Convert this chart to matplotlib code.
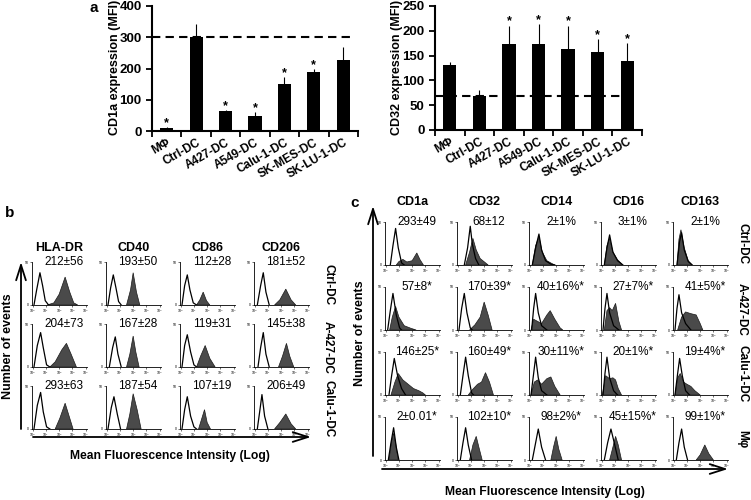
import numpy as np
import matplotlib
matplotlib.use("Agg")
import matplotlib.pyplot as plt

plt.rcParams['font.family'] = ['Liberation Sans', 'DejaVu Sans']

# ---- panel a data ----
groups = ["MΦ", "Ctrl-DC", "A427-DC", "A549-DC", "Calu-1-DC", "SK-MES-DC", "SK-LU-1-DC"]
cd1a_mfi = [9, 300, 63, 48, 152, 189, 227]
cd1a_err = [3, 43, 4, 12, 20, 9, 42]
cd1a_star = [1, 0, 1, 1, 1, 1, 0]
cd32_mfi = [131, 69, 173, 173, 163, 157, 140]
cd32_err = [7, 11, 37, 40, 47, 26, 35]
cd32_star = [0, 0, 1, 1, 1, 1, 1]

# ---- panel b data ----
b_markers = ["HLA-DR", "CD40", "CD86", "CD206"]
b_rows = ["Ctrl-DC", "A-427-DC", "Calu-1-DC"]
b_stats = [["212±56", "193±50", "112±28", "181±52"],
           ["204±73", "167±28", "119±31", "145±38"],
           ["293±63", "187±54", "107±19", "206±49"]]
# histogram outlines: (log decade, fraction of max count)
b_open = [
    [[(0.1, 0), (0.3, 0.35), (0.55, 0.75), (0.75, 0.45), (0.95, 0.1), (1.2, 0)],
     [(0.1, 0), (0.3, 0.4), (0.5, 0.7), (0.7, 0.4), (0.9, 0.08), (1.1, 0)],
     [(0.1, 0), (0.3, 0.45), (0.5, 0.7), (0.7, 0.35), (0.95, 0.05), (1.2, 0)],
     [(0.2, 0), (0.45, 0.45), (0.65, 0.75), (0.85, 0.3), (1.1, 0)]],
    [[(0.1, 0), (0.35, 0.5), (0.6, 0.8), (0.8, 0.45), (1.05, 0.05), (1.3, 0)],
     [(0.2, 0), (0.45, 0.45), (0.65, 0.7), (0.85, 0.3), (1.1, 0)],
     [(0.1, 0), (0.3, 0.5), (0.5, 0.75), (0.75, 0.35), (1.0, 0.05), (1.2, 0)],
     [(0.25, 0), (0.45, 0.45), (0.65, 0.8), (0.85, 0.3), (1.1, 0)]],
    [[(0.1, 0), (0.35, 0.55), (0.6, 0.85), (0.8, 0.4), (1.05, 0.05), (1.3, 0)],
     [(0.1, 0), (0.35, 0.5), (0.55, 0.75), (0.8, 0.35), (1.05, 0)],
     [(0.1, 0), (0.3, 0.45), (0.5, 0.75), (0.75, 0.3), (1.0, 0.05), (1.2, 0)],
     [(0.2, 0), (0.4, 0.45), (0.55, 0.8), (0.75, 0.3), (1.0, 0)]],
]
b_fill = [
    [[(1.1, 0), (1.6, 0.05), (2.0, 0.25), (2.45, 0.65), (2.8, 0.3), (3.1, 0.05), (3.4, 0)],
     [(1.5, 0), (1.8, 0.35), (2.0, 0.75), (2.25, 0.3), (2.5, 0)],
     [(1.2, 0), (1.45, 0.12), (1.7, 0.3), (1.95, 0.1), (2.2, 0)],
     [(1.5, 0), (1.9, 0.12), (2.35, 0.37), (2.75, 0.12), (3.1, 0)]],
    [[(1.3, 0), (1.7, 0.12), (2.2, 0.4), (2.55, 0.55), (2.9, 0.3), (3.3, 0)],
     [(1.5, 0), (1.75, 0.3), (2.0, 0.72), (2.2, 0.35), (2.45, 0)],
     [(1.2, 0), (1.5, 0.25), (1.85, 0.5), (2.2, 0.2), (2.6, 0)],
     [(1.8, 0), (2.1, 0.25), (2.4, 0.55), (2.65, 0.25), (2.95, 0)]],
    [[(1.7, 0), (2.05, 0.25), (2.45, 0.6), (2.75, 0.3), (3.05, 0)],
     [(1.5, 0), (1.75, 0.35), (2.0, 0.82), (2.3, 0.45), (2.6, 0)],
     [(1.35, 0), (1.55, 0.2), (1.8, 0.45), (2.0, 0.15), (2.25, 0)],
     [(1.5, 0), (1.9, 0.15), (2.35, 0.35), (2.75, 0.12), (3.1, 0)]],
]

# ---- panel c data ----
c_markers = ["CD1a", "CD32", "CD14", "CD16", "CD163"]
c_rows = ["Ctrl-DC", "A-427-DC", "Calu-1-DC", "Mφ"]
c_stats = [["293±49", "68±12", "2±1%", "3±1%", "2±1%"],
           ["57±8*", "170±39*", "40±16%*", "27±7%*", "41±5%*"],
           ["146±25*", "160±49*", "30±11%*", "20±1%*", "19±4%*"],
           ["2±0.01*", "102±10*", "98±2%*", "45±15%*", "99±1%*"]]
c_open = [
    [[(0.35, 0), (0.55, 0.45), (0.75, 0.85), (0.95, 0.4), (1.2, 0.05), (1.4, 0)],
     [(0.5, 0), (0.75, 0.4), (0.95, 0.9), (1.1, 0.5), (1.35, 0.15), (1.6, 0)],
     [(0.2, 0), (0.45, 0.4), (0.7, 0.72), (0.9, 0.35), (1.2, 0.1), (1.6, 0.02), (1.9, 0)],
     [(0.2, 0), (0.4, 0.4), (0.6, 0.7), (0.85, 0.3), (1.2, 0.1), (1.6, 0)],
     [(0.25, 0), (0.45, 0.55), (0.6, 0.75), (0.8, 0.35), (1.1, 0.08), (1.4, 0)]],
    [[(0.15, 0), (0.35, 0.45), (0.55, 0.85), (0.8, 0.35), (1.05, 0.05), (1.2, 0)],
     [(0.1, 0), (0.3, 0.5), (0.5, 0.85), (0.7, 0.4), (0.95, 0.05), (1.1, 0)],
     [(0.15, 0), (0.3, 0.5), (0.45, 0.85), (0.65, 0.4), (0.9, 0.1), (1.3, 0)],
     [(0.1, 0), (0.25, 0.5), (0.4, 0.85), (0.6, 0.4), (0.9, 0.1), (1.3, 0)],
     [(0.1, 0), (0.25, 0.5), (0.4, 0.82), (0.6, 0.4), (0.9, 0.15), (1.3, 0)]],
    [[(0.25, 0), (0.45, 0.45), (0.65, 0.85), (0.9, 0.45), (1.2, 0.15), (1.5, 0)],
     [(0.2, 0), (0.4, 0.45), (0.6, 0.88), (0.8, 0.45), (1.05, 0.05), (1.2, 0)],
     [(0.1, 0), (0.3, 0.5), (0.45, 0.88), (0.65, 0.4), (0.9, 0.1), (1.3, 0)],
     [(0.1, 0), (0.25, 0.5), (0.4, 0.88), (0.6, 0.4), (0.9, 0.1), (1.2, 0)],
     [(0.1, 0), (0.3, 0.5), (0.45, 0.85), (0.65, 0.45), (0.9, 0.1), (1.2, 0)]],
    [[(0.2, 0), (0.4, 0.4), (0.6, 0.75), (0.8, 0.3), (1.0, 0)],
     [(0.2, 0), (0.4, 0.4), (0.6, 0.75), (0.8, 0.35), (1.05, 0)],
     [(0.2, 0), (0.45, 0.4), (0.65, 0.72), (0.9, 0.3), (1.2, 0)],
     [(0.2, 0), (0.45, 0.4), (0.7, 0.72), (0.95, 0.4), (1.25, 0)],
     [(0.2, 0), (0.4, 0.4), (0.6, 0.72), (0.8, 0.3), (1.05, 0)]],
]
c_fill = [
    [[(0.8, 0), (1.0, 0.08), (1.3, 0.13), (1.6, 0.07), (2.0, 0.1), (2.35, 0.28), (2.6, 0.12), (2.85, 0)],
     [(0.6, 0), (0.9, 0.3), (1.15, 0.62), (1.4, 0.35), (1.7, 0.15), (2.1, 0.05), (2.3, 0)],
     [(0.2, 0), (0.45, 0.45), (0.7, 0.66), (0.95, 0.3), (1.3, 0.1), (1.7, 0.03), (1.9, 0)],
     [(0.2, 0), (0.4, 0.45), (0.6, 0.62), (0.85, 0.3), (1.2, 0.12), (1.6, 0)],
     [(0.25, 0), (0.4, 0.6), (0.55, 0.82), (0.8, 0.4), (1.1, 0.1), (1.4, 0)]],
    [[(0.3, 0), (0.5, 0.3), (0.75, 0.55), (1.0, 0.3), (1.4, 0.1), (1.9, 0.04), (2.3, 0)],
     [(0.9, 0), (1.3, 0.12), (1.7, 0.3), (2.0, 0.65), (2.3, 0.35), (2.6, 0)],
     [(0.1, 0), (0.3, 0.25), (0.6, 0.2), (0.9, 0.15), (1.3, 0.35), (1.55, 0.45), (1.9, 0.25), (2.3, 0.05), (2.5, 0)],
     [(0.2, 0), (0.4, 0.45), (0.6, 0.52), (0.8, 0.45), (1.05, 0.62), (1.3, 0.2), (1.5, 0)],
     [(0.3, 0), (0.6, 0.3), (0.9, 0.42), (1.3, 0.38), (1.7, 0.35), (2.0, 0.15), (2.2, 0)]],
    [[(0.4, 0), (0.7, 0.3), (0.95, 0.5), (1.3, 0.35), (1.7, 0.25), (2.1, 0.15), (2.5, 0.1), (2.8, 0.05), (3.0, 0)],
     [(0.8, 0), (1.1, 0.12), (1.5, 0.25), (1.8, 0.3), (2.1, 0.52), (2.4, 0.3), (2.7, 0)],
     [(0.1, 0), (0.35, 0.3), (0.6, 0.35), (0.9, 0.25), (1.3, 0.38), (1.6, 0.42), (1.9, 0.2), (2.3, 0)],
     [(0.05, 0), (0.3, 0.45), (0.6, 0.38), (0.85, 0.4), (1.05, 0.35), (1.25, 0.15), (1.5, 0)],
     [(0.1, 0), (0.3, 0.4), (0.5, 0.5), (0.75, 0.3), (1.0, 0.25), (1.3, 0.2), (1.6, 0.1), (2.0, 0)]],
    [[(0.25, 0), (0.45, 0.45), (0.6, 0.62), (0.75, 0.4), (0.95, 0)],
     [(0.9, 0), (1.15, 0.35), (1.4, 0.55), (1.6, 0.3), (1.85, 0)],
     [(1.6, 0), (1.8, 0.3), (2.0, 0.55), (2.2, 0.25), (2.45, 0)],
     [(0.6, 0), (0.85, 0.3), (1.05, 0.55), (1.25, 0.35), (1.5, 0)],
     [(1.7, 0), (2.0, 0.12), (2.35, 0.35), (2.65, 0.15), (3.0, 0)]],
]

W, H = 751, 500
fig = plt.figure(figsize=(W / 100, H / 100), dpi=100)


def px_axes(x, y, w, h):
    # x, y = top-left corner in pixels
    return fig.add_axes([x / W, 1 - (y + h) / H, w / W, h / H])


# overlay in pixel coords for arrows / free labels
ov = px_axes(0, 0, W, H)
ov.set_xlim(0, W)
ov.set_ylim(H, 0)
ov.axis("off")


def bar_panel(x, y, w, h, vals, errs, stars, ymax, step):
    ax = px_axes(x, y, w, h)
    pos = np.arange(len(groups))
    ax.bar(pos, vals, width=0.45, color="black")
    ax.errorbar(pos, vals, yerr=[np.zeros(len(vals)), errs], fmt="none",
                ecolor="black", elinewidth=0.8, capsize=0)
    for p, v, e, s in zip(pos, vals, errs, stars):
        if s:
            ax.annotate("*", (p, v + e), xytext=(0, 1), textcoords="offset points",
                        ha="center", va="baseline", fontsize=9, fontweight="bold")
    ax.plot([-0.5, 6.35], [vals[1], vals[1]], ls=(0, (4, 2.5)), color="black", lw=1.5)
    ax.set_xlim(-0.5, 6.5)
    ax.set_ylim(0, ymax)
    ax.set_yticks(np.arange(0, ymax + 1, step))
    ax.set_xticks(np.arange(-0.5, 7, 1))
    ax.set_xticklabels([])
    ax.set_xticks(pos, minor=True)
    ax.set_xticklabels(groups, minor=True, rotation=30, ha="right",
                       rotation_mode="anchor", fontsize=8.5, fontweight="bold")
    ax.tick_params(axis="x", which="minor", length=0, pad=4)
    ax.tick_params(axis="both", which="major", length=4, width=1.3, direction="out")
    for t in ax.get_yticklabels():
        t.set_fontweight("bold")
        t.set_fontsize(9.5)
    ax.spines[["top", "right"]].set_visible(False)
    ax.spines[["left", "bottom"]].set_linewidth(1.5)
    return ax


bar_panel(152, 6, 206, 125, cd1a_mfi, cd1a_err, cd1a_star, 400, 100)
bar_panel(435, 6, 207, 124, cd32_mfi, cd32_err, cd32_star, 250, 50)
ov.text(115, 67, "CD1a expression (MFI)", rotation=90, ha="center", va="center",
        fontsize=9, fontweight="bold")
ov.text(397, 67, "CD32 expression (MFI)", rotation=90, ha="center", va="center",
        fontsize=9, fontweight="bold")
ov.text(94, 8, "a", ha="center", va="center", fontsize=11, fontweight="bold")


def hist_panel(x, y, fill_pts, open_pts, label):
    ax = px_axes(x, y, 55, 43)
    fx, fy = zip(*fill_pts)
    ax.fill(fx, fy, facecolor="#4a4a4a", edgecolor="#1a1a1a", lw=0.5)
    ox, oy = zip(*open_pts)
    ax.plot(ox, oy, color="black", lw=0.9)
    ax.set_xlim(-0.05, 4.1)
    ax.set_ylim(0, 1)
    ax.set_xticks(range(5))
    ax.set_xticklabels(["10$^0$", "10$^1$", "10$^2$", "10$^3$", "10$^4$"], fontsize=2.5)
    ax.set_yticks([0, 1])
    ax.set_yticklabels(["0", "50"], fontsize=2.5)
    ax.tick_params(length=1.5, width=0.4, pad=0.5)
    ax.spines[["top", "right"]].set_visible(False)
    ax.spines[["left", "bottom"]].set_linewidth(0.6)
    ax.text(0.58, 1.0, label, transform=ax.transAxes, ha="center", va="center",
            fontsize=8.5)
    return ax


# panel b
b_x = [32, 106, 180, 254]
b_y = [262, 324, 386]
for j, m in enumerate(b_markers):
    ov.text(b_x[j] + 27.5, 248, m, ha="center", va="center", fontsize=9, fontweight="bold")
for i, r in enumerate(b_rows):
    for j in range(len(b_markers)):
        hist_panel(b_x[j], b_y[i], b_fill[i][j], b_open[i][j], b_stats[i][j])
    ov.text(328, b_y[i] + 23, r, rotation=270, ha="center", va="center",
            fontsize=8.5, fontweight="bold")
ov.text(5, 213, "b", ha="left", va="center", fontsize=11, fontweight="bold")
ov.text(8, 346, "Number of events", rotation=90, ha="center", va="center",
        fontsize=9, fontweight="bold")
ov.text(170, 456, "Mean Fluorescence Intensity (Log)", ha="center", va="center",
        fontsize=8.7, fontweight="bold")
arrow = dict(arrowstyle="->,head_length=1.1,head_width=0.35", lw=1.3,
             color="black", shrinkA=0, shrinkB=0)
ov.annotate("", xy=(21, 262), xytext=(21, 429), arrowprops=arrow)
ov.annotate("", xy=(311, 437), xytext=(33, 437), arrowprops=arrow)

# panel c
c_x = [385, 457, 529, 601, 673]
c_y = [222, 287, 352, 417]
for j, m in enumerate(c_markers):
    ov.text(c_x[j] + 27.5, 202, m, ha="center", va="center", fontsize=9, fontweight="bold")
for i, r in enumerate(c_rows):
    for j in range(len(c_markers)):
        hist_panel(c_x[j], c_y[i], c_fill[i][j], c_open[i][j], c_stats[i][j])
    ov.text(742, c_y[i] + 22, r, rotation=270, ha="center", va="center",
            fontsize=8.5, fontweight="bold")
ov.text(355, 203, "c", ha="center", va="center", fontsize=11, fontweight="bold")
ov.text(360, 333, "Number of events", rotation=90, ha="center", va="center",
        fontsize=9, fontweight="bold")
ov.text(545, 492, "Mean Fluorescence Intensity (Log)", ha="center", va="center",
        fontsize=8.7, fontweight="bold")
ov.annotate("", xy=(373, 206), xytext=(373, 456), arrowprops=arrow)
ov.annotate("", xy=(728, 469), xytext=(382, 469), arrowprops=arrow)

fig.savefig("out.png", dpi=100)
